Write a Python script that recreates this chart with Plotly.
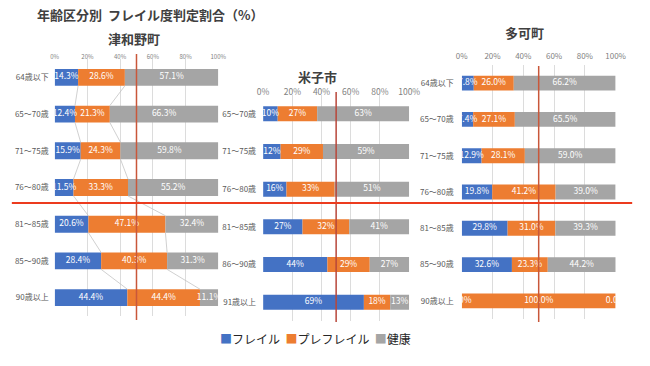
import plotly.graph_objects as go

# ---- data ----
series_names = ["フレイル", "プレフレイル", "健康"]
colors = ["#4472C4", "#ED7D31", "#A5A5A5"]

tsuwano_cats = ["64歳以下", "65～70歳", "71～75歳", "76～80歳", "81～85歳", "85～90歳", "90歳以上"]
tsuwano_frail = [14.3, 12.4, 15.9, 11.5, 20.6, 28.4, 44.4]
tsuwano_pre = [28.6, 21.3, 24.3, 33.3, 47.1, 40.3, 44.4]
tsuwano_health = [57.1, 66.3, 59.8, 55.2, 32.4, 31.3, 11.1]

yonago_cats = ["65～70歳", "71～75歳", "76～80歳", "81～85歳", "86～90歳", "91歳以上"]
yonago_frail = [10, 12, 16, 27, 44, 69]
yonago_pre = [27, 29, 33, 32, 29, 18]
yonago_health = [63, 59, 51, 41, 27, 13]

taka_cats = ["64歳以下", "65～70歳", "71～75歳", "76～80歳", "81～85歳", "85～90歳", "90歳以上"]
taka_frail = [7.8, 7.4, 12.9, 19.8, 29.8, 32.6, 0.0]
taka_pre = [26.0, 27.1, 28.1, 41.2, 31.0, 23.3, 100.0]
taka_health = [66.2, 65.5, 59.0, 39.0, 39.3, 44.2, 0.0]

xticks = [0, 20, 40, 60, 80, 100]
xtick_text = ["0%", "20%", "40%", "60%", "80%", "100%"]

W, H = 650, 366
FONT = "Noto Sans CJK JP"

def px_x(p):
    return p / W

def px_y(p):
    return 1 - p / H

fig = go.Figure()

panels = [
    dict(cats=tsuwano_cats, vals=[tsuwano_frail, tsuwano_pre, tsuwano_health], fmt="{:.1f}%",
         xr=(50, 218), yr=(59, 316), bw=0.46, ts=8.5, tk=6, xso=-2, yso=5,
         title="津和野町", tpos=(131, 38), lines=True, vline=(54, 320), vcol="#C9573A"),
    dict(cats=yonago_cats, vals=[yonago_frail, yonago_pre, yonago_health], fmt="{:.0f}%",
         xr=(264, 414), yr=(95, 321), bw=0.40, ts=8.5, tk=8.5, xso=-3, yso=6,
         title="米子市", tpos=(320, 76), lines=False, vline=(92, 322), vcol="#B8473A"),
    dict(cats=taka_cats, vals=[taka_frail, taka_pre, taka_health], fmt="{:.1f}%",
         xr=(468, 626), yr=(65, 319), bw=0.41, ts=8.5, tk=8, xso=3, yso=7,
         title="多可町", tpos=(532, 33), lines=False, vline=(66, 322), vcol="#C9573A"),
]

for pi, p in enumerate(panels):
    k = "" if pi == 0 else str(pi + 1)
    xa, ya = "x" + k, "y" + k
    n = len(p["cats"])
    ypos = list(range(n))
    cum = [0.0] * n
    bounds = []
    for si in range(3):
        vals = p["vals"][si]
        fig.add_trace(go.Bar(
            y=ypos, x=vals, base=cum[:], orientation="h", width=p["bw"],
            marker=dict(color=colors[si], line=dict(width=0)),
            name=series_names[si], showlegend=False,
            xaxis=xa, yaxis=ya, hoverinfo="skip",
        ))
        centers = [c + v / 2 for c, v in zip(cum, vals)]
        fig.add_trace(go.Scatter(
            y=ypos, x=centers, mode="text", text=[p["fmt"].format(v) for v in vals],
            textfont=dict(color="white", size=p["ts"], family=FONT),
            showlegend=False, xaxis=xa, yaxis=ya, hoverinfo="skip", cliponaxis=True,
        ))
        cum = [c + v for c, v in zip(cum, vals)]
        bounds.append(cum[:])
    if p["lines"]:
        for b in bounds[:2]:
            lx, ly = [], []
            for i in range(n - 1):
                lx += [b[i], b[i + 1], None]
                ly += [i + p["bw"] / 2, i + 1 - p["bw"] / 2, None]
            fig.add_trace(go.Scatter(x=lx, y=ly, mode="lines", line=dict(color="#C4C4C4", width=0.8),
                                     showlegend=False, xaxis=xa, yaxis=ya, hoverinfo="skip"))
    xd = [px_x(p["xr"][0]), px_x(p["xr"][1])]
    yd = [px_y(p["yr"][1]), px_y(p["yr"][0])]
    fig.update_layout(**{
        ("xaxis" + k): dict(domain=xd, range=[0, 100], side="top", tickvals=xticks, ticktext=xtick_text,
                             showgrid=True, gridcolor="#DCDCDC", gridwidth=1, zeroline=False,
                             showline=False, ticks="", anchor=ya, ticklabelstandoff=p["xso"],
                             tickfont=dict(size=p["tk"], color="#7F7F7F", family=FONT)),
        ("yaxis" + k): dict(domain=yd, range=[n - 0.5, -0.5], tickvals=ypos, ticktext=p["cats"],
                             showgrid=False, zeroline=False, showline=False, ticks="", anchor=xa,
                             ticklabelstandoff=p["yso"],
                             tickfont=dict(size=8, color="#595959", family=FONT)),
    })
    fig.add_annotation(x=px_x(p["tpos"][0]), y=px_y(p["tpos"][1]), xref="paper", yref="paper",
                       xanchor="center", yanchor="middle", text="<b>" + p["title"] + "</b>", showarrow=False,
                       font=dict(size=13, color="#404040", family=FONT))
    fig.add_shape(type="line", xref=xa, yref="paper", x0=50, x1=50,
                  y0=px_y(p["vline"][1]), y1=px_y(p["vline"][0]),
                  line=dict(color=p["vcol"], width=1.5))

# horizontal red line
fig.add_shape(type="line", xref="paper", yref="paper", x0=px_x(6), x1=px_x(643),
              y0=px_y(203), y1=px_y(203), line=dict(color="#EC3B1E", width=2))

fig.add_annotation(x=px_x(30), y=px_y(14), xref="paper", yref="paper", xanchor="left", yanchor="middle",
                   text="<b>年齢区分別  フレイル度判定割合（%）</b>", showarrow=False,
                   font=dict(size=13, color="#404040", family=FONT))

# legend (text legend with coloured squares)
legend_text = "  ".join(
    "<span style='color:%s'>■</span>%s" % (c, n) for c, n in zip(colors, series_names)
)
fig.add_annotation(x=px_x(218), y=px_y(338), xref="paper", yref="paper", xanchor="left", yanchor="middle",
                   text=legend_text, showarrow=False,
                   font=dict(size=12, color="#262626", family=FONT))

fig.update_layout(
    width=W, height=H, margin=dict(l=0, r=0, t=0, b=0),
    paper_bgcolor="white", plot_bgcolor="white",
    barmode="overlay", showlegend=False,
    font=dict(family=FONT),
)

fig.write_html("out.html", config={"displayModeBar": False},
               post_script="document.body.style.margin='0';document.body.style.overflow='hidden';")
